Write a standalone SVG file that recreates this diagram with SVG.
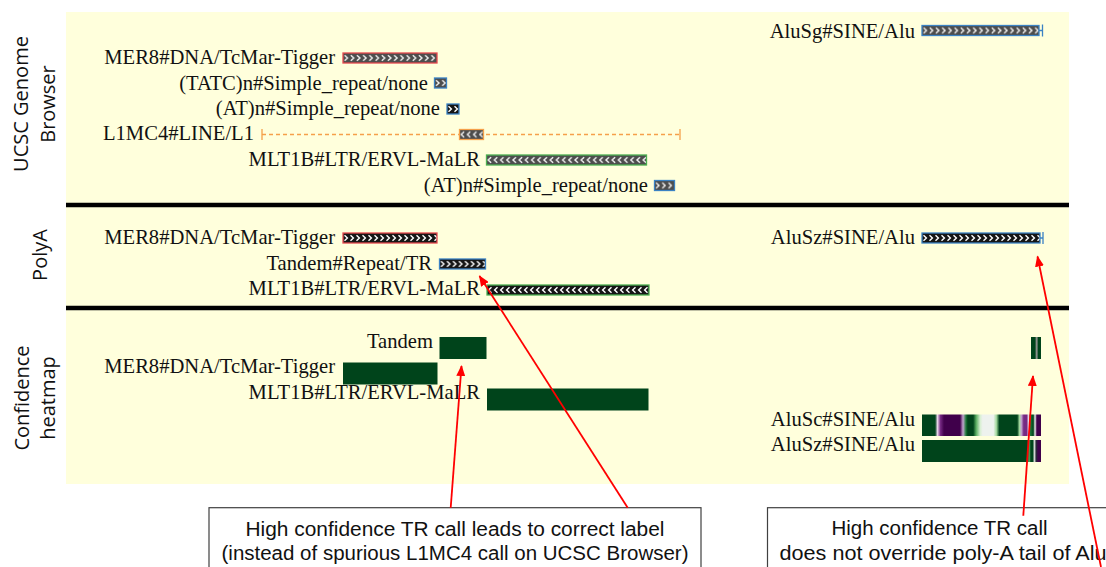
<svg xmlns="http://www.w3.org/2000/svg" width="1106" height="567" viewBox="0 0 1106 567">
<defs>
<style>
.trk{font-family:"Liberation Serif","Times New Roman",serif;font-size:20.6px;fill:#111;text-anchor:end}
.side{font-family:"Open Sans","Noto Sans",sans-serif;font-size:20px;fill:#111;text-anchor:middle}
.call{font-family:"Liberation Sans",Arial,sans-serif;font-size:20px;fill:#111;text-anchor:middle}
.bR{stroke:#e5484d;stroke-width:1.3}
.bB{stroke:#3b82c4;stroke-width:1.3}
.bG{stroke:#4caf50;stroke-width:1.3}
.bO{stroke:#f5a04a;stroke-width:1.3}
.hm{fill:#00441b}
.box{fill:#fff;stroke:#404040;stroke-width:1.2}
.arr{stroke:#f00;stroke-width:1.8;fill:none;marker-end:url(#ah)}
.sep{stroke:#000;stroke-width:4.5}
.tick{stroke-width:1.3;fill:none}
</style>
<pattern id="cR" patternUnits="userSpaceOnUse" width="6.2" height="10"><rect width="6.2" height="10" fill="#4d4d4d"/><path d="M1.6,2.2 L4.5,5 L1.6,7.8" stroke="#eee" stroke-width="1.4" fill="none"/></pattern>
<pattern id="cRk" patternUnits="userSpaceOnUse" width="6" height="10"><rect width="6" height="10" fill="#151515"/><path d="M1.5,2.2 L4.4,5 L1.5,7.8" stroke="#fff" stroke-width="1.4" fill="none"/></pattern>
<pattern id="cL" patternUnits="userSpaceOnUse" width="6.2" height="10"><rect width="6.2" height="10" fill="#4d4d4d"/><path d="M4.6,2.2 L1.7,5 L4.6,7.8" stroke="#eee" stroke-width="1.4" fill="none"/></pattern>
<pattern id="cLk" patternUnits="userSpaceOnUse" width="6" height="10"><rect width="6" height="10" fill="#151515"/><path d="M4.5,2.2 L1.6,5 L4.5,7.8" stroke="#fff" stroke-width="1.4" fill="none"/></pattern>
<linearGradient id="gSc" x1="0" y1="0" x2="1" y2="0">
<stop offset="0" stop-color="#00441b"/><stop offset="0.11" stop-color="#00441b"/>
<stop offset="0.13" stop-color="#e7d4e8"/><stop offset="0.155" stop-color="#762a83"/>
<stop offset="0.185" stop-color="#40004b"/><stop offset="0.32" stop-color="#40004b"/>
<stop offset="0.345" stop-color="#c2a5cf"/><stop offset="0.37" stop-color="#1b7837"/>
<stop offset="0.385" stop-color="#00441b"/><stop offset="0.43" stop-color="#00441b"/>
<stop offset="0.455" stop-color="#5aae61"/><stop offset="0.49" stop-color="#d9f0d3"/>
<stop offset="0.51" stop-color="#eef2ee"/><stop offset="0.6" stop-color="#eef2ee"/>
<stop offset="0.625" stop-color="#a6dba0"/><stop offset="0.65" stop-color="#00441b"/>
<stop offset="0.8" stop-color="#00441b"/><stop offset="0.82" stop-color="#a6dba0"/>
<stop offset="0.835" stop-color="#c2a5cf"/><stop offset="0.855" stop-color="#762a83"/>
<stop offset="0.88" stop-color="#762a83"/><stop offset="0.895" stop-color="#e7d4e8"/>
<stop offset="0.91" stop-color="#1b7837"/><stop offset="0.935" stop-color="#00441b"/>
<stop offset="0.95" stop-color="#f0f0f0"/><stop offset="0.965" stop-color="#40004b"/>
<stop offset="1" stop-color="#40004b"/>
</linearGradient>
<linearGradient id="gSz" x1="0" y1="0" x2="1" y2="0">
<stop offset="0" stop-color="#00441b"/><stop offset="0.885" stop-color="#00441b"/>
<stop offset="0.9" stop-color="#5aae61"/><stop offset="0.915" stop-color="#00441b"/>
<stop offset="0.93" stop-color="#00441b"/><stop offset="0.945" stop-color="#d9d9d9"/>
<stop offset="0.96" stop-color="#2a2a3a"/><stop offset="0.975" stop-color="#40004b"/>
<stop offset="1" stop-color="#40004b"/>
</linearGradient>
<linearGradient id="gT" x1="0" y1="0" x2="1" y2="0">
<stop offset="0" stop-color="#00441b"/><stop offset="0.42" stop-color="#00441b"/>
<stop offset="0.5" stop-color="#8a8f8a"/><stop offset="0.62" stop-color="#8a8f8a"/>
<stop offset="0.7" stop-color="#00441b"/><stop offset="1" stop-color="#00441b"/>
</linearGradient>
<marker id="ah" markerUnits="userSpaceOnUse" markerWidth="11" markerHeight="9" refX="10" refY="4.5" orient="auto"><path d="M0,0 L11,4.5 L0,9 z" fill="#f00"/></marker>
</defs>

<rect id="panel" x="66" y="12" width="1003" height="472" fill="#ffffdc"/>
<line class="sep" x1="66" y1="205" x2="1069" y2="205"/>
<line class="sep" x1="66" y1="308" x2="1069" y2="308"/>

<g id="side-labels">
<text class="side" transform="translate(28,104) rotate(-90)">UCSC Genome</text>
<text class="side" transform="translate(55,104) rotate(-90)">Browser</text>
<text class="side" transform="translate(47,255) rotate(-90)">PolyA</text>
<text class="side" transform="translate(29,398) rotate(-90)">Confidence</text>
<text class="side" transform="translate(55,398) rotate(-90)">heatmap</text>
</g>

<!-- UCSC Genome Browser -->
<g id="ucsc-alusg">
<text class="trk" x="915" y="38">AluSg#SINE/Alu</text>
<rect class="bB" transform="translate(922,25.5)" width="117" height="10" fill="url(#cR)"/>
<path class="bB tick" d="M1039,30.5 H1042.5 M1042.5,24.5 V36.5"/>
</g>
<g id="ucsc-mer8">
<text class="trk" x="335" y="63.5">MER8#DNA/TcMar-Tigger</text>
<rect class="bR" transform="translate(343,53)" width="94" height="10" fill="url(#cR)"/>
</g>
<g id="ucsc-tatc">
<text class="trk" x="428" y="89.5">(TATC)n#Simple_repeat/none</text>
<rect class="bB" transform="translate(434.5,78)" width="12" height="10" fill="url(#cR)"/>
</g>
<g id="ucsc-at1">
<text class="trk" x="440" y="115">(AT)n#Simple_repeat/none</text>
<rect class="bB" transform="translate(447,104)" width="12" height="10" fill="url(#cRk)"/>
</g>
<g id="ucsc-l1mc4">
<text class="trk" x="254" y="140">L1MC4#LINE/L1</text>
<line x1="262" y1="134.5" x2="680" y2="134.5" stroke="#f5a04a" stroke-width="1.3" stroke-dasharray="4,3"/>
<path class="bO tick" d="M262,129 V140 M680,129 V140"/>
<rect class="bO" transform="translate(459.5,129.5)" width="24" height="10" fill="url(#cL)"/>
</g>
<g id="ucsc-mlt1b">
<text class="trk" x="480" y="166">MLT1B#LTR/ERVL-MaLR</text>
<rect class="bG" transform="translate(486.5,155)" width="160" height="10" fill="url(#cL)"/>
</g>
<g id="ucsc-at2">
<text class="trk" x="648" y="191.5">(AT)n#Simple_repeat/none</text>
<rect class="bB" transform="translate(654.5,180.5)" width="20" height="10" fill="url(#cR)"/>
</g>

<!-- PolyA -->
<g id="polya-mer8">
<text class="trk" x="335" y="244">MER8#DNA/TcMar-Tigger</text>
<rect class="bR" transform="translate(343,233)" width="94" height="10" fill="url(#cRk)"/>
</g>
<g id="polya-alusz">
<text class="trk" x="915" y="244">AluSz#SINE/Alu</text>
<rect class="bB" transform="translate(922,233)" width="118" height="10" fill="url(#cRk)"/>
<path class="bB tick" d="M1040,238 H1043 M1043,232 V244"/>
</g>
<g id="polya-tandem">
<text class="trk" x="432" y="269.5">Tandem#Repeat/TR</text>
<rect class="bB" transform="translate(439.5,259)" width="46" height="10" fill="url(#cRk)"/>
</g>
<g id="polya-mlt1b">
<text class="trk" x="480" y="295">MLT1B#LTR/ERVL-MaLR</text>
<rect class="bG" transform="translate(487,285)" width="162" height="10" fill="url(#cLk)"/>
</g>

<!-- Confidence heatmap -->
<g id="hm-tandem">
<text class="trk" x="433" y="348">Tandem</text>
<rect class="hm" x="439.5" y="337" width="47" height="22"/>
</g>
<g id="hm-tr-alu">
<rect x="1031" y="337" width="10" height="22" fill="url(#gT)"/>
</g>
<g id="hm-mer8">
<text class="trk" x="335" y="373">MER8#DNA/TcMar-Tigger</text>
<rect class="hm" x="343" y="362.5" width="94.5" height="22"/>
</g>
<g id="hm-mlt1b">
<text class="trk" x="480" y="399">MLT1B#LTR/ERVL-MaLR</text>
<rect class="hm" x="487" y="388.5" width="161.5" height="22"/>
</g>
<g id="hm-alusc">
<text class="trk" x="915" y="426">AluSc#SINE/Alu</text>
<rect x="922" y="414.5" width="119" height="21.5" fill="url(#gSc)"/>
</g>
<g id="hm-alusz">
<text class="trk" x="915" y="451">AluSz#SINE/Alu</text>
<rect x="922" y="440" width="119" height="22" fill="url(#gSz)"/>
</g>

<!-- Callouts -->
<g id="callout-left">
<rect class="box" x="209" y="507.7" width="492" height="80"/>
<text class="call" x="455" y="535.5" textLength="419" lengthAdjust="spacingAndGlyphs">High confidence TR call leads to correct label</text>
<text class="call" x="455" y="560" textLength="467" lengthAdjust="spacingAndGlyphs">(instead of spurious L1MC4 call on UCSC Browser)</text>
</g>
<g id="callout-right">
<rect class="box" x="767.5" y="507.7" width="400" height="80"/>
<text class="call" x="939.5" y="535" textLength="216" lengthAdjust="spacingAndGlyphs">High confidence TR call</text>
<text class="call" x="943" y="560" textLength="327" lengthAdjust="spacingAndGlyphs">does not override poly-A tail of Alu</text>
</g>

<g id="connectors">
<path class="arr" d="M450.7,507.7 L461.5,366"/>
<path class="arr" d="M627.7,507.7 L479.5,276"/>
<path class="arr" d="M1023.3,515.7 L1033,376"/>
<path class="arr" d="M1101,567 L1037.5,256.5"/>
</g>
</svg>
